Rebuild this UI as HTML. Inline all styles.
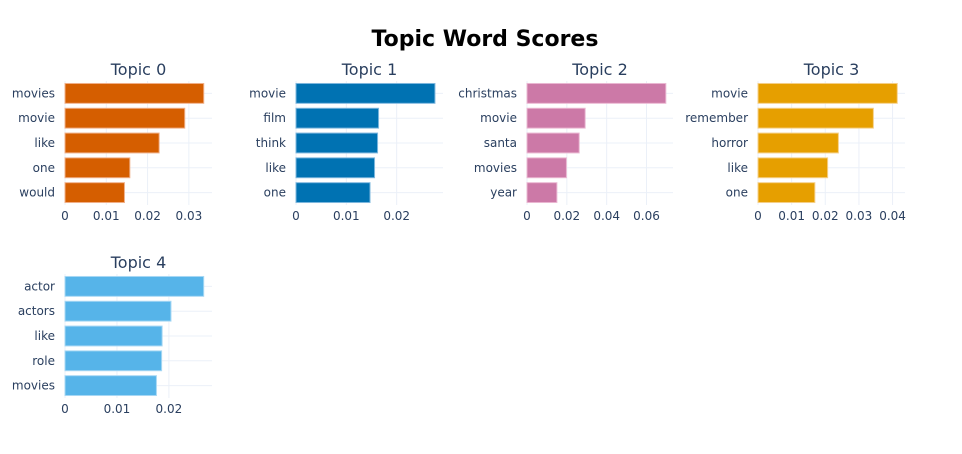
<!DOCTYPE html>
<html><head><meta charset="utf-8"><style>
body{margin:0;background:#fff;width:962px;height:449px;overflow:hidden}
svg{font-family:"DejaVu Sans","Liberation Sans",sans-serif}
</style></head><body>
<svg id="chart" width="962" height="449" xmlns="http://www.w3.org/2000/svg">
<text x="485" y="46" text-anchor="middle" font-size="22" font-weight="bold" fill="#000">Topic Word Scores</text>
</svg>
<script>
const topicTitles = ["Topic 0","Topic 1","Topic 2","Topic 3","Topic 4"];
const words0 = ["movies","movie","like","one","would"];
const scores0 = [0.0336,0.0290,0.0228,0.0157,0.0144];
const words1 = ["movie","film","think","like","one"];
const scores1 = [0.0276,0.0164,0.0162,0.0156,0.0147];
const words2 = ["christmas","movie","santa","movies","year"];
const scores2 = [0.0697,0.0292,0.0262,0.0198,0.0150];
const words3 = ["movie","remember","horror","like","one"];
const scores3 = [0.0414,0.0343,0.0239,0.0207,0.0169];
const words4 = ["actor","actors","like","role","movies"];
const scores4 = [0.0267,0.0204,0.0187,0.0186,0.0176];
const ticks0 = [0,0.01,0.02,0.03];
const ticks1 = [0,0.01,0.02];
const ticks2 = [0,0.02,0.04,0.06];
const ticks3 = [0,0.01,0.02,0.03,0.04];
const ticks4 = [0,0.01,0.02];
const maxes = [0.0356,0.0292,0.0733,0.0437,0.0283];
const colors = ["#d55e00","#0072b2","#cc79a7","#e69f00","#56b4e9"];
const lines = ["#f0b08a","#7fb8de","#eab8d2","#f5d08a","#a8d8f4"];

const layout = [
  {x0:65,x1:212,y0:81,y1:205},
  {x0:296,x1:443,y0:81,y1:205},
  {x0:527,x1:673,y0:81,y1:205},
  {x0:758,x1:905,y0:81,y1:205},
  {x0:65,x1:212,y0:274,y1:398}
];
const allWords=[words0,words1,words2,words3,words4];
const allScores=[scores0,scores1,scores2,scores3,scores4];
const allTicks=[ticks0,ticks1,ticks2,ticks3,ticks4];
const svg=document.getElementById('chart');
const NS="http://www.w3.org/2000/svg";
function mk(tag,attrs,parent){const e=document.createElementNS(NS,tag);for(const k in attrs)e.setAttribute(k,attrs[k]);parent.appendChild(e);return e;}
function fmt(v){return v===0?"0":String(+v.toFixed(3));}

for(let p=0;p<5;p++){
  const L=layout[p], words=allWords[p], sc=allScores[p], tk=allTicks[p];
  const g=mk('g',{},svg);
  
  
  const xs=v=>L.x0+(v/maxes[p])*(L.x1-L.x0);
  const band=(L.y1-L.y0)/words.length;
  const yc=i=>L.y0+band*(i+0.5);
  tk.forEach(t=>{
    const gl=mk('line',{x1:xs(t),x2:xs(t),y1:L.y0,y2:L.y1,stroke:'#ebf0f8','stroke-width':1},g);
    
    
    const tl=mk('text',{x:xs(t),y:L.y1+15,'text-anchor':'middle','font-size':12,fill:'#2a3f5f'},g);
    tl.textContent=fmt(t);
    
    
  });
  words.forEach((w,i)=>{
    const hl=mk('line',{x1:L.x0,x2:L.x1,y1:yc(i),y2:yc(i),stroke:'#ebf0f8','stroke-width':1},g);
    
    
  });
  words.forEach((w,i)=>{
    const h=band*0.8;
    const r=mk('rect',{x:xs(0),y:yc(i)-h/2,width:xs(sc[i])-xs(0),height:h,fill:colors[p],stroke:lines[p],'stroke-width':1},g);
    
    
    const lb=mk('text',{x:L.x0-10,y:yc(i)+4,'text-anchor':'end','font-size':12,fill:'#2a3f5f'},g);
    lb.textContent=w;
    
    
  });
  const tt=mk('text',{x:(L.x0+L.x1)/2,y:L.y0-6,'text-anchor':'middle','font-size':16,fill:'#2a3f5f'},g);
  tt.textContent=topicTitles[p];
  
  
}
</script>
</body></html>
